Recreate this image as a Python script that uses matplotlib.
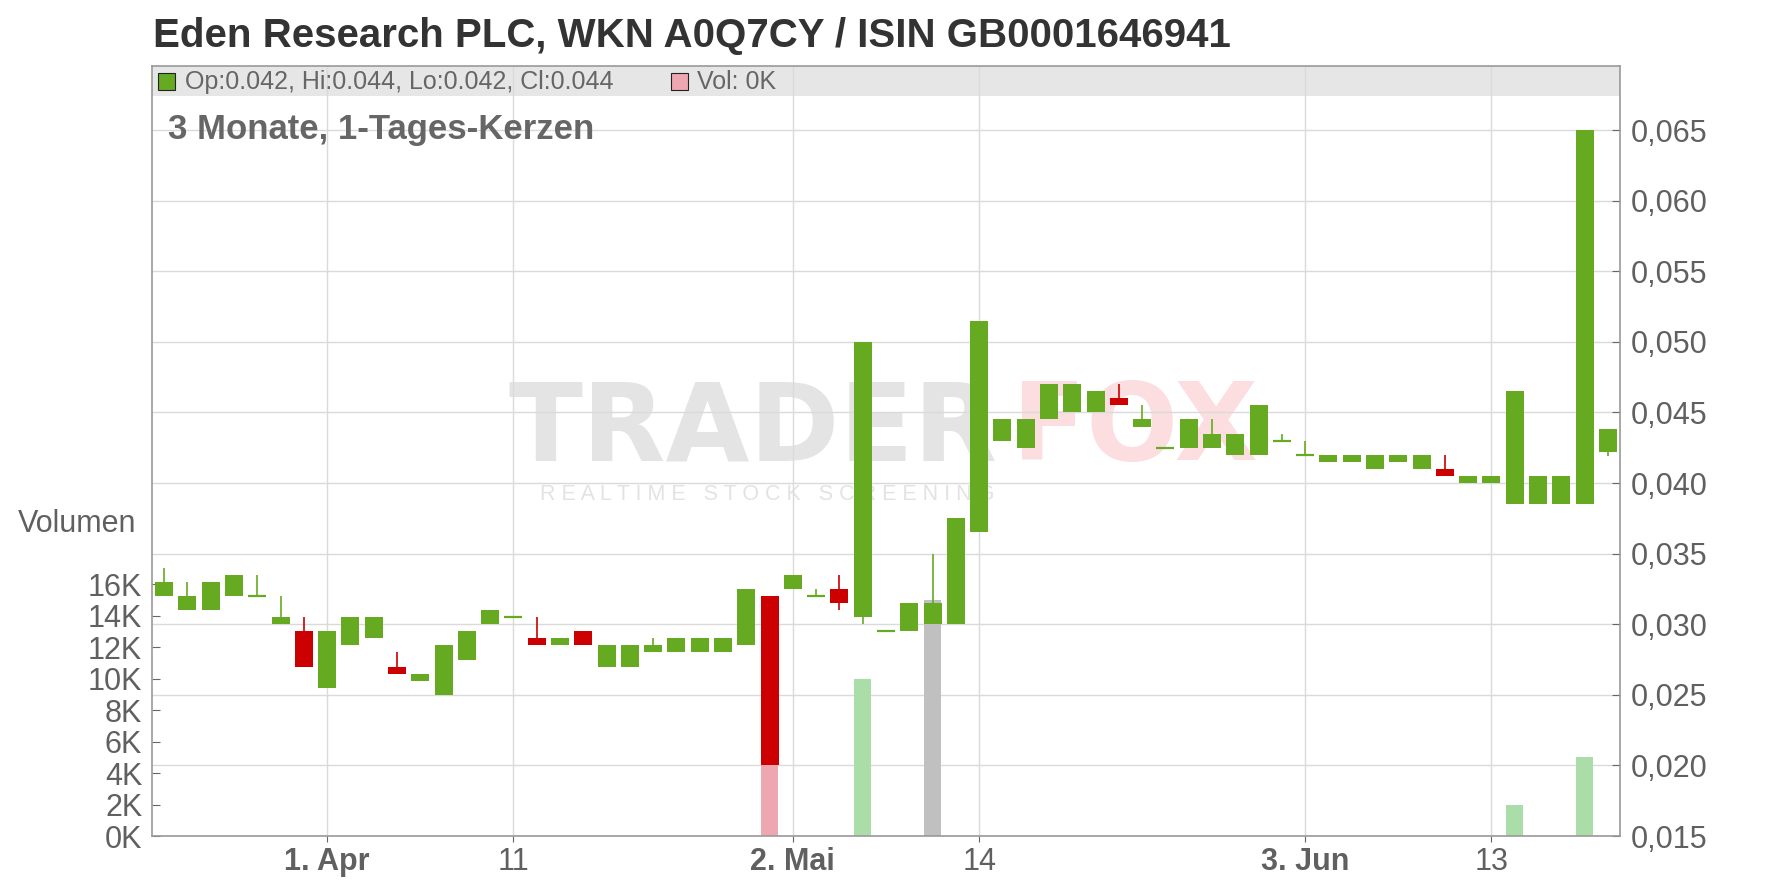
import matplotlib
matplotlib.use('Agg')
import matplotlib.pyplot as plt
from matplotlib.patches import Rectangle
import numpy as np
import pandas as pd

plt.rcParams['font.family'] = ['Liberation Sans', 'DejaVu Sans']

# trading days (Frankfurt), 21 Mar - 20 Jun 2025
holidays = ['2025-04-18', '2025-04-21', '2025-05-01']
days = pd.bdate_range('2025-03-21', '2025-06-20')
days = days[~days.isin(pd.to_datetime(holidays))]

opens = [0.032, 0.031, 0.031, 0.032, 0.032, 0.030, 0.0295, 0.0255, 0.0285, 0.029,
         0.027, 0.026, 0.025, 0.0275, 0.030, 0.0305, 0.029, 0.0285, 0.0295, 0.027,
         0.027, 0.028, 0.028, 0.028, 0.028, 0.0285, 0.032, 0.0325, 0.032, 0.0325,
         0.0305, 0.0295, 0.0295, 0.030, 0.030, 0.0365, 0.043, 0.0425, 0.0445, 0.045,
         0.045, 0.046, 0.044, 0.0425, 0.0425, 0.0425, 0.042, 0.042, 0.043, 0.042,
         0.0415, 0.0415, 0.041, 0.0415, 0.041, 0.041, 0.040, 0.040, 0.0385, 0.0385,
         0.0385, 0.0385, 0.0422]
highs = [0.034, 0.033, 0.033, 0.0335, 0.0335, 0.032, 0.0305, 0.0295, 0.0305, 0.0305,
         0.028, 0.0265, 0.0285, 0.0295, 0.031, 0.0305, 0.0305, 0.029, 0.0295, 0.0285,
         0.0285, 0.029, 0.029, 0.029, 0.029, 0.0325, 0.032, 0.0335, 0.0325, 0.0335,
         0.050, 0.0295, 0.0315, 0.035, 0.0375, 0.0515, 0.0445, 0.0445, 0.047, 0.047,
         0.0465, 0.047, 0.0455, 0.0425, 0.0445, 0.0445, 0.0435, 0.0455, 0.0435, 0.043,
         0.042, 0.042, 0.042, 0.042, 0.042, 0.042, 0.0405, 0.0405, 0.0465, 0.0405,
         0.0405, 0.065, 0.0438]
lows = [0.032, 0.031, 0.031, 0.032, 0.032, 0.030, 0.027, 0.0255, 0.0285, 0.029,
        0.0265, 0.026, 0.025, 0.0275, 0.030, 0.0305, 0.0285, 0.0285, 0.0285, 0.027,
        0.027, 0.028, 0.028, 0.028, 0.028, 0.0285, 0.020, 0.0325, 0.032, 0.031,
        0.030, 0.0295, 0.0295, 0.030, 0.030, 0.0365, 0.043, 0.0425, 0.0445, 0.045,
        0.045, 0.0455, 0.044, 0.0425, 0.0425, 0.0425, 0.042, 0.042, 0.043, 0.042,
        0.0415, 0.0415, 0.041, 0.0415, 0.041, 0.0405, 0.040, 0.040, 0.0385, 0.0385,
        0.0385, 0.0385, 0.0419]
closes = [0.033, 0.032, 0.033, 0.0335, 0.032, 0.0305, 0.027, 0.0295, 0.0305, 0.0305,
          0.0265, 0.0265, 0.0285, 0.0295, 0.031, 0.0305, 0.0285, 0.029, 0.0285, 0.0285,
          0.0285, 0.0285, 0.029, 0.029, 0.029, 0.0325, 0.020, 0.0335, 0.032, 0.0315,
          0.050, 0.0295, 0.0315, 0.0315, 0.0375, 0.0515, 0.0445, 0.0445, 0.047, 0.047,
          0.0465, 0.0455, 0.0445, 0.0425, 0.0445, 0.0435, 0.0435, 0.0455, 0.043, 0.042,
          0.042, 0.042, 0.042, 0.042, 0.042, 0.0405, 0.0405, 0.0405, 0.0465, 0.0405,
          0.0405, 0.065, 0.0438]
volume_k = [0, 0, 0, 0, 0, 0, 0, 0, 0, 0,
            0, 0, 0, 0, 0, 0, 0, 0, 0, 0,
            0, 0, 0, 0, 0, 0, 8, 0, 0, 0,
            10, 0, 0, 15, 0, 0, 0, 0, 0, 0,
            0, 0, 0, 0, 0, 0, 0, 0, 0, 0,
            0, 0, 0, 0, 0, 0, 0, 0, 2, 0,
            0, 5, 0]
grey_volume_days = ['2025-05-12']

tick_days = ['2025-04-01', '2025-04-11', '2025-05-02', '2025-05-14', '2025-06-03', '2025-06-13']
tick_labels = ['1. Apr', '11', '2. Mai', '14', '3. Jun', '13']
month_ticks = ['1. Apr', '2. Mai', '3. Jun']
price_ticks = [0.015, 0.020, 0.025, 0.030, 0.035, 0.040, 0.045, 0.050, 0.055, 0.060, 0.065]
vol_ticks = [0, 2, 4, 6, 8, 10, 12, 14, 16]

W, H = 1776, 888
L, R, T, B = 152, 1620, 66, 836
px_per_price = 14120.0
px_per_k = 15.75

def fx(x):
    return x / W

def fy(y):
    return 1 - y / H

fig = plt.figure(figsize=(W / 100, H / 100), dpi=100)
fig.patch.set_facecolor('white')
ax = fig.add_axes([fx(L), fy(B), (R - L) / W, (B - T) / H])
axv = ax.twinx()
ax.set_zorder(2)
axv.set_zorder(1)
ax.patch.set_visible(False)

n = len(days)
x = np.arange(n)
o = np.array(opens); h = np.array(highs); lo = np.array(lows); c = np.array(closes)

pmin = 0.015
pmax = pmin + (B - T) / px_per_price
vmax = (B - T) / px_per_k
ax.set_ylim(pmin, pmax)
axv.set_ylim(0, vmax)
ax.set_xlim(-0.52, n - 0.48)

tick_idx = [int(np.where(days == pd.Timestamp(d))[0][0]) for d in tick_days]

# header band, grid, watermark on lower axes
axv.add_patch(Rectangle((0, 1 - 30 / (B - T)), 1, 30 / (B - T), transform=axv.transAxes,
                        facecolor='#e6e6e6', edgecolor='none', zorder=0.5))
grid_c = '#dadada'
for i in tick_idx:
    axv.axvline(i, color=grid_c, lw=1.0, zorder=1)
for p in price_ticks:
    axv.axhline((p - pmin) / (pmax - pmin) * vmax, color=grid_c, lw=1.0, zorder=1)

axv.text(fx(508), fy(430), 'TRADER', transform=fig.transFigure, fontsize=78, fontweight='bold',
         color='#e4e4e4', va='center', ha='left', family='DejaVu Sans', zorder=0.8)
axv.text(fx(1012), fy(430), 'FOX', transform=fig.transFigure, fontsize=78, fontweight='bold',
         color='#fcdde0', va='center', ha='left', family='DejaVu Sans', zorder=0.8)
axv.text(fx(540), fy(494), 'R E A L T I M E   S T O C K   S C R E E N I N G', transform=fig.transFigure,
         fontsize=15.5, color='#e3e3e3', va='center', ha='left', zorder=0.8)

# volume
vol_colors = []
for i in range(n):
    if days[i].strftime('%Y-%m-%d') in grey_volume_days:
        vol_colors.append('#c0c0c0')
    elif c[i] < o[i]:
        vol_colors.append('#eea7b0')
    else:
        vol_colors.append('#abdda9')
axv.bar(x, volume_k, width=0.74, color=vol_colors, zorder=2)

# candles
up_c, down_c = '#66aa22', '#cc0000'
colors = [down_c if c[i] < o[i] else up_c for i in range(n)]
ax.vlines(x, lo, h, colors=colors, lw=1.2, zorder=2)
body_lo = np.minimum(o, c)
body_h = np.abs(c - o)
flat = body_h < 1e-9
ax.bar(x[~flat], body_h[~flat], bottom=body_lo[~flat], width=0.77,
       color=[colors[i] for i in range(n) if not flat[i]], zorder=3)
ax.hlines(o[flat], x[flat] - 0.385, x[flat] + 0.385, colors=[colors[i] for i in range(n) if flat[i]],
          lw=1.6, zorder=3)

# axes styling
for s in ax.spines.values():
    s.set_color('#999999')
    s.set_linewidth(1.2)
for s in axv.spines.values():
    s.set_visible(False)

ax.yaxis.tick_right()
ax.set_yticks(price_ticks)
ax.set_yticklabels([f'{p:.3f}'.replace('.', ',') for p in price_ticks])
ax.tick_params(axis='y', direction='in', length=6, color='#666666', labelsize=22,
               labelcolor='#606060', pad=8)
axv.yaxis.tick_left()
axv.set_yticks(vol_ticks)
axv.set_yticklabels([f'{v}K' for v in vol_ticks])
axv.tick_params(axis='y', direction='in', length=6, color='#666666', labelsize=22,
                labelcolor='#606060', pad=7)
ax.set_xticks(tick_idx)
ax.set_xticklabels(tick_labels)
ax.tick_params(axis='x', direction='out', length=4, color='#666666', labelsize=22,
               labelcolor='#606060', pad=4)
for t in ax.get_xticklabels():
    if t.get_text() in month_ticks:
        t.set_fontweight('bold')

# texts
fig.text(fx(153), fy(47), 'Eden Research PLC, WKN A0Q7CY / ISIN GB0001646941', fontsize=29,
         fontweight='bold', color='#333333', va='baseline', ha='left')
ax.text(fx(168), fy(130), '3 Monate, 1-Tages-Kerzen', transform=fig.transFigure, fontsize=25,
        fontweight='bold', color='#666666', va='center', ha='left', zorder=5)
fig.text(fx(18), fy(524), 'Volumen', fontsize=22, color='#606060', va='center', ha='left')

ax.add_patch(Rectangle((fx(158), fy(90)), 17 / W, 17 / H, transform=fig.transFigure,
                       facecolor=up_c, edgecolor='#222222', lw=0.8, zorder=5, clip_on=False))
ax.text(fx(185), fy(82), 'Op:0.042, Hi:0.044, Lo:0.042, Cl:0.044', transform=fig.transFigure,
        fontsize=18, color='#666666', va='center', ha='left', zorder=5)
ax.add_patch(Rectangle((fx(671), fy(90)), 17 / W, 17 / H, transform=fig.transFigure,
                       facecolor='#eea7b0', edgecolor='#222222', lw=0.8, zorder=5, clip_on=False))
ax.text(fx(697), fy(82), 'Vol: 0K', transform=fig.transFigure,
        fontsize=18, color='#666666', va='center', ha='left', zorder=5)

fig.savefig('out.png', dpi=100, facecolor='white')
